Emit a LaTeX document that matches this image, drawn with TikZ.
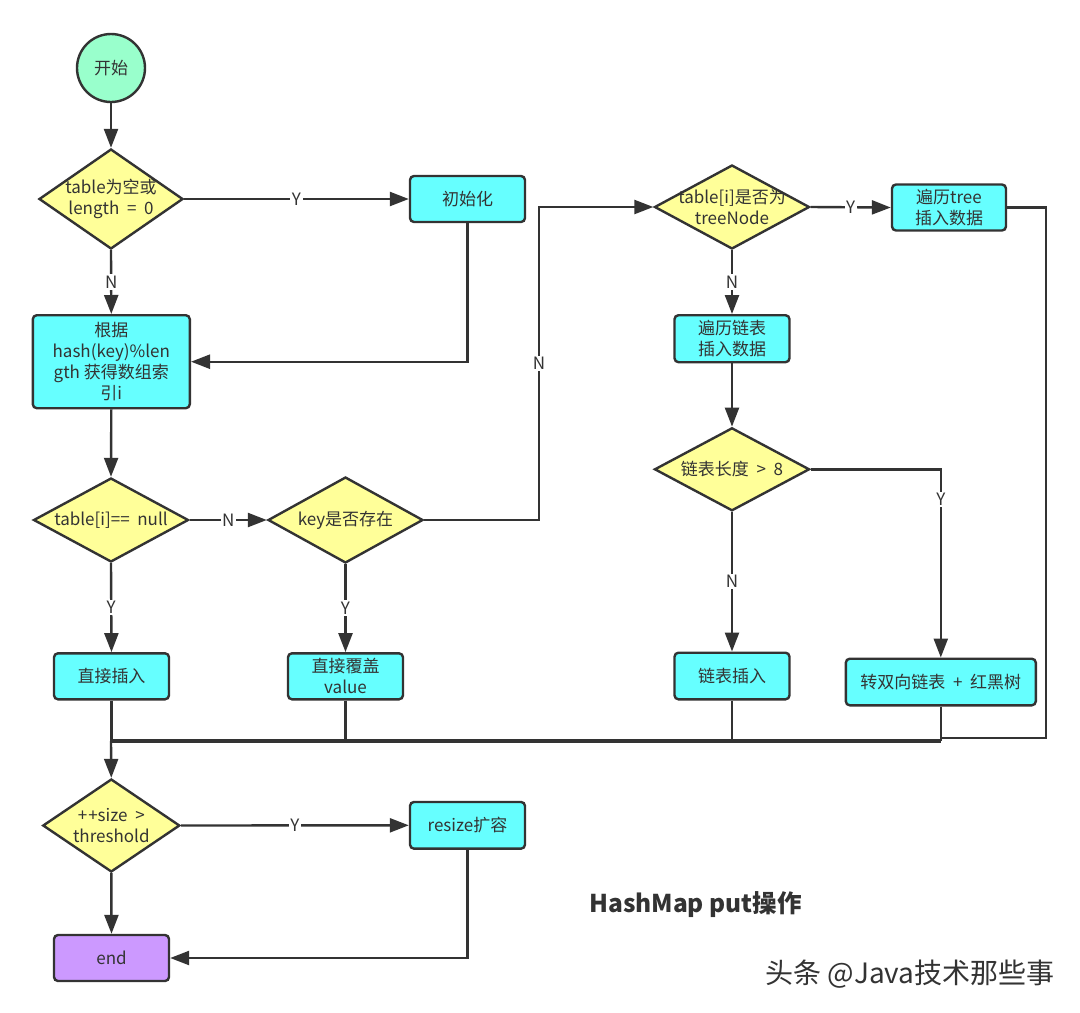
\documentclass[tikz,border=0pt]{standalone}
\usepackage{fontspec}
\setmainfont{Noto Sans CJK SC}
\usetikzlibrary{shapes.geometric,arrows.meta,calc}
\definecolor{ink}{HTML}{333333}
\definecolor{yel}{HTML}{FFFF99}
\definecolor{cyanbox}{HTML}{66FFFF}
\definecolor{mint}{HTML}{99FFCC}
\definecolor{lav}{HTML}{CC99FF}
\newcommand\nfs{\fontsize{17}{21}\selectfont}
\newcommand\wsp{\hspace{0.45em}}
\begin{document}
\begin{tikzpicture}[x=1pt,y=-1pt,
  box/.style={draw=ink, line width=2.4pt, rounded corners=4pt, fill=cyanbox,
    minimum width=115pt, minimum height=46pt, inner sep=0pt, align=center,
    font=\nfs, text=ink},
  dia/.style={draw=ink, line width=2.4pt, fill=yel, diamond, inner sep=0pt},
  dtxt/.style={align=center, font=\nfs, text=ink, inner sep=0pt},
  conn/.style={draw=ink, line width=2.4pt},
  arr/.style={conn, -{Triangle[length=19pt,width=14pt]}},
  bus/.style={draw=ink, line width=4.5pt},
  lbl/.style={fill=white, inner sep=1.5pt, font=\nfs, text=ink}]
\useasboundingbox[fill=white] (0,0) rectangle (1080,1013);

% nodes
\node[circle, draw=ink, line width=2.4pt, fill=mint, minimum size=68pt, inner sep=0pt,
  font=\nfs, text=ink] (start) at (111,68) {开始};

\node[dia, minimum width=144pt, minimum height=100pt] (d1) at (111,199) {};
\node[dtxt] (d1t) at (d1) {table为空或\\length\wsp{}=\wsp{}0};

\node[box] (init) at (467.5,199) {初始化};

\node[box, minimum width=157pt, minimum height=93pt] (hash) at (111.3,361.7)
  {根据\\hash(key)\%len\\gth 获得数组索\\引i};

\node[dia, minimum width=155pt, minimum height=84pt] (d2) at (111,520) {};
\node[dtxt] (d2t) at (d2) {table[i]==\wsp{}null};

\node[dia, minimum width=155pt, minimum height=86pt] (key) at (345.5,520) {};
\node[dtxt] (keyt) at (key) {key是否存在};

\node[box] (direct) at (111.5,676.3) {直接插入};
\node[box] (cover) at (345.5,676.3) {直接覆盖\\value};

\node[dia, minimum width=155pt, minimum height=84pt] (d3) at (732,207) {};
\node[dtxt] (d3t) at (d3) {table[i]是否为\\treeNode};

\node[box, minimum width=114pt] (treeins) at (949,207.5) {遍历tree\\插入数据};

\node[box, minimum height=47pt] (list) at (732,338.7) {遍历链表\\插入数据};

\node[dia, minimum width=155pt, minimum height=83pt] (d4) at (732,469.3) {};
\node[dtxt] (d4t) at (d4) {链表长度\wsp{}>\wsp{}8};

\node[box, minimum height=46.6pt] (linsert) at (732,676) {链表插入};
\node[box, minimum width=190pt, minimum height=46.6pt] (rbt) at (940.8,682) {转双向链表\wsp{}+\wsp{}红黑树};

\node[dia, minimum width=137pt, minimum height=93pt] (d5) at (111.3,825.5) {};
\node[dtxt] (d5t) at (d5) {+\kern1pt+size\wsp{}>\\threshold};

\node[box, minimum height=46.7pt] (resize) at (467.5,825.3) {resize扩容};
\node[box, fill=lav] (end) at (111.5,958) {end};

\node[font=\fontsize{24.5}{28}\selectfont\bfseries, text=ink] (title) at (695.5,905) {HashMap put操作};
\node[font=\fontsize{28}{32}\selectfont, text=ink] (wm) at (910,974) {头条 @Java技术那些事};

% coordinates
\coordinate (busL) at (111,741);
\coordinate (nturn) at (539,520);
\coordinate (rtb) at (1046,738);

% connectors
\draw[arr] (start) -- (d1);
\draw[arr] (d1.east) -- node[lbl]{Y} (init.west);
\draw[arr] (d1.south) -- node[lbl]{N} (hash.north);
\draw[arr] (init.south) |- (hash.east);
\draw[arr] (hash.south) -- (d2.north);
\draw[arr] (d2.east) -- node[lbl]{N} (key.west);
\draw[arr] (d2.south) -- node[lbl]{Y} (direct.north);
\draw[arr] (key.south) -- node[lbl]{Y} (cover.north);
\draw[arr] (key.east) -- (nturn) -- node[lbl]{N} (nturn |- d3.west) -- (d3.west);
\draw[arr] (d3.east) -- node[lbl]{Y} (treeins.west);
\draw[arr] (d3.south) -- node[lbl]{N} (list.north);
\draw[arr] (list.south) -- (d4.north);
\draw[arr] (d4.south) -- node[lbl]{N} (linsert.north);
\draw[arr] (d4.east) -- (d4.east -| rbt.north) -- node[lbl, pos=0.16]{Y} (rbt.north);
\draw[conn] (treeins.east) -- (treeins.east -| rtb) -- (rtb) -- (rtb -| rbt.south);

\draw[conn] (direct.south) -- (direct.south |- busL);
\draw[conn] (cover.south) -- (cover.south |- busL);
\draw[conn] (linsert.south) -- (linsert.south |- busL);
\draw[conn] (rbt.south) -- (rbt.south |- busL);
\draw[bus] (busL) -- (busL -| rbt.south);
\draw[arr] (busL) -- (d5.north);

\draw[arr] (d5.east) -- node[lbl]{Y} (resize.west);
\draw[arr] (d5.south) -- (end.north);
\draw[arr] (resize.south) |- (end.east);
\end{tikzpicture}
\end{document}
